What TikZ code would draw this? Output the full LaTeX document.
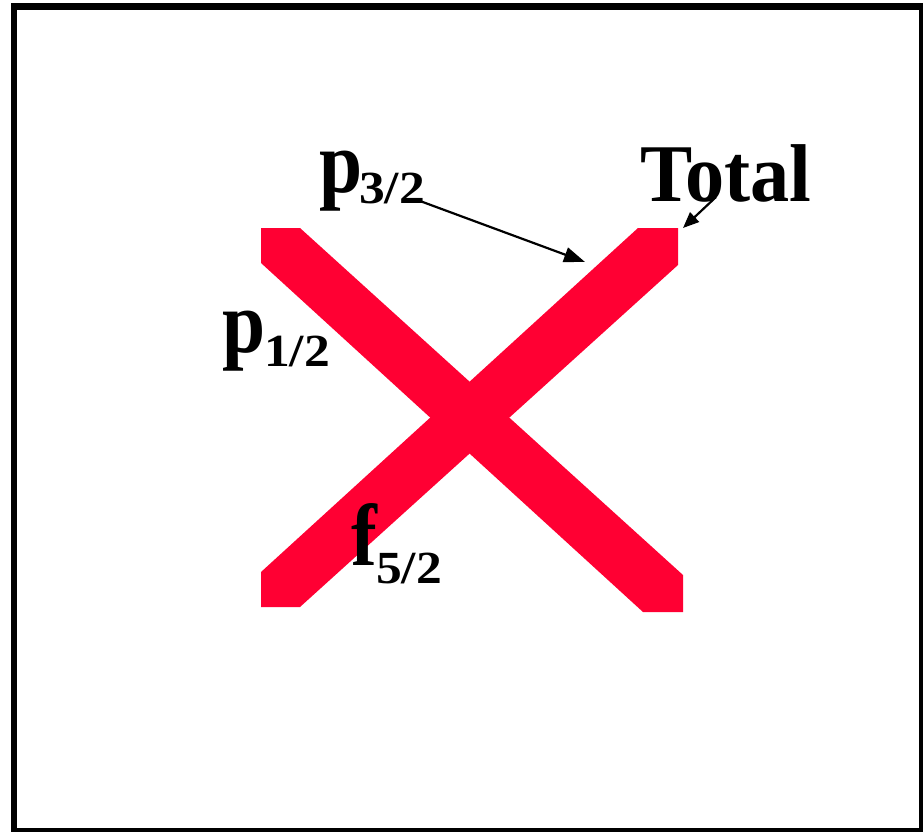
\documentclass[tikz,border=0pt]{standalone}
\usepackage{fontspec}
\setmainfont{Liberation Serif}
\usetikzlibrary{arrows.meta}
\definecolor{xred}{RGB}{255,0,51}
\newcommand{\mainglyph}[1]{\scalebox{0.88}[1]{#1}}
\newcommand{\subglyph}[1]{\scalebox{1.12}[1]{#1}}
\newcommand{\totglyph}[1]{\scalebox{0.955}[1]{#1}}
\tikzset{
  mainlbl/.style={anchor=base west, inner sep=0pt, font=\fontsize{88}{88}\selectfont\bfseries},
  sublbl/.style={anchor=base west, inner sep=0pt, font=\fontsize{46}{46}\selectfont\bfseries},
  totlbl/.style={anchor=base west, inner sep=0pt, font=\fontsize{82}{82}\selectfont\bfseries},
  bar/.style={fill=xred, draw=none},
  pointer/.style={draw=black, line width=2.2pt, -{Triangle[length=21pt,width=15pt]}},
  smallpointer/.style={draw=black, line width=2.2pt, -{Triangle[length=16pt,width=13pt]}},
  frame/.style={draw=black, line width=6.5pt}
}
\begin{document}
\begin{tikzpicture}[x=1pt,y=-1pt]
\useasboundingbox (0,0) rectangle (923,832);
\fill[white] (0,0) rectangle (923,832);
\draw[frame] (14.2,6.3) rectangle (922.5,831);
% red X
\path[bar] (261,228) -- (300,228) -- (683,575) -- (683,612) -- (643,612) -- (261,263) -- cycle;
\path[bar] (261,572) -- (261,607) -- (300,607) -- (678,265) -- (678,228) -- (638,228) -- cycle;
% labels
\node[mainlbl] (p32) at (319,192) {\mainglyph{p}};
\node[sublbl] (p32s) at (359,203) {\subglyph{3/2}};
\node[totlbl] (tot) at (640,201.7) {\totglyph{Total}};
\node[mainlbl] (p12) at (222,352) {\mainglyph{p}};
\node[sublbl] (p12s) at (264,366.7) {\subglyph{1/2}};
\node[mainlbl] (f52) at (351,565) {\mainglyph{f}};
\node[sublbl] (f52s) at (376,583) {\subglyph{5/2}};
% arrows
\coordinate (a1s) at (420,201);
\coordinate (a1e) at (585,262);
\coordinate (a2s) at (716,197);
\coordinate (a2e) at (683,228);
\draw[pointer] (a1s) -- (a1e);
\draw[smallpointer] (a2s) -- (a2e);
\end{tikzpicture}
\end{document}
